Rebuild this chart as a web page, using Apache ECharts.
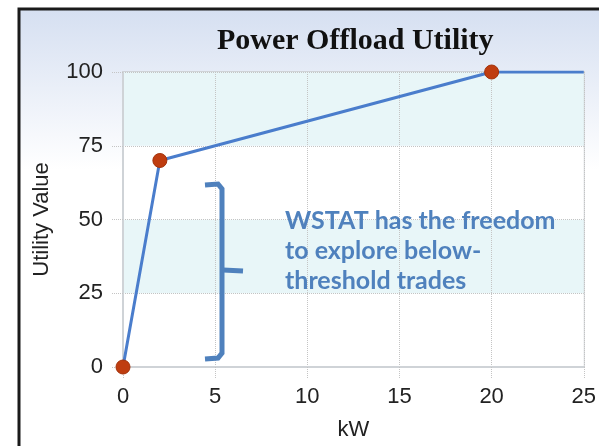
<!DOCTYPE html>
<html>
<head>
<meta charset="utf-8">
<script src="https://cdn.jsdelivr.net/npm/echarts@6/dist/echarts.min.js"></script>
<style>
	html, body { margin:0; padding:0; background:#fff; }
	#main { width:599px; height:446px; }
</style>
</head>
<body>
<div id="main"></div>
<script>
// data
var kw = [0, 2, 20, 25];
var utility = [0, 70, 100, 100];
var marked = [true, true, true, false];

var xTicks = [0, 5, 10, 15, 20, 25];
var yTicks = [0, 25, 50, 75, 100];

var noteLines = ['WSTAT has the freedom', 'to explore below-', 'threshold trades'];

var pts = [];
for (var i = 0; i < kw.length; i++) {
	pts.push({value: [kw[i], utility[i]], symbol: marked[i] ? 'circle' : 'none'});
}

var blue = '#4f81bd';
var axisFont = 'Liberation Sans';

var chart = echarts.init(document.getElementById('main'));

chart.setOption({
	animation: false,
	title: {
		text: 'Power Offload Utility',
		left: 212,
		top: 21,
		textStyle: {fontFamily: 'Liberation Serif', fontWeight: 'bold', fontSize: 30, color: '#111'}
	},
	graphic: [
		{
			// outer frame with soft blue top
			type: 'rect', z: -10, silent: true,
			shape: {x: 19, y: 9, width: 620, height: 460},
			style: {
				fill: new echarts.graphic.LinearGradient(0, 0, 0, 1, [
					{offset: 0, color: '#d5dff1'},
					{offset: 0.35, color: '#ffffff'},
					{offset: 1, color: '#ffffff'}
				]),
				stroke: '#1a1a1a', lineWidth: 3
			}
		},
		{
			// the bracket
			type: 'polyline', z: 100, silent: true,
			shape: {points: [[205, 185], [218, 184], [222, 189], [222, 353], [218, 358], [205, 359]]},
			style: {stroke: blue, lineWidth: 5, fill: null}
		},
		{
			type: 'polyline', z: 100, silent: true,
			shape: {points: [[223, 270], [243, 271]]},
			style: {stroke: blue, lineWidth: 5, fill: null}
		},
		{
			type: 'text', z: 100, silent: true,
			left: 285, top: 206,
			style: {
				text: noteLines.join('\n'),
				font: 'bold 25px Lato',
				lineHeight: 30,
				fill: blue
			}
		}
	],
	grid: {
		left: 123, right: 11, top: 72, bottom: 78,
		show: true,
		borderColor: '#cfd3d7',
		borderWidth: 2,
		backgroundColor: 'transparent'
	},
	xAxis: {
		type: 'value',
		min: xTicks[0],
		max: xTicks[xTicks.length - 1],
		interval: 5,
		name: 'kW',
		nameLocation: 'middle',
		nameGap: 52,
		nameTextStyle: {fontFamily: axisFont, fontSize: 22, color: '#222'},
		axisLine: {lineStyle: {color: '#cfd3d7', width: 2}},
		axisTick: {show: true, length: 12, lineStyle: {color: '#c4c4c4', type: 'dotted'}},
		axisLabel: {fontFamily: axisFont, fontSize: 22, color: '#222', margin: 19},
		splitLine: {show: true, lineStyle: {color: '#c4c4c4', type: 'dotted'}}
	},
	yAxis: {
		type: 'value',
		min: yTicks[0],
		max: yTicks[yTicks.length - 1],
		interval: 25,
		name: 'Utility Value',
		nameLocation: 'middle',
		nameGap: 70,
		nameTextStyle: {fontFamily: axisFont, fontSize: 22, color: '#222'},
		axisLine: {show: true, lineStyle: {color: '#cfd3d7', width: 2}},
		axisTick: {show: true, length: 12, lineStyle: {color: '#c4c4c4', type: 'dotted'}},
		axisLabel: {fontFamily: axisFont, fontSize: 22, color: '#222', margin: 20},
		splitLine: {show: true, lineStyle: {color: '#c4c4c4', type: 'dotted'}},
		splitArea: {show: true, areaStyle: {color: ['#ffffff', '#e8f6f8']}}
	},
	series: [{
		type: 'line',
		data: pts,
		symbolSize: 14,
		lineStyle: {color: '#4a7dcc', width: 3},
		itemStyle: {color: '#bf3d10', borderColor: '#a3320a', borderWidth: 1},
		z: 5
	}]
});
</script>
</body>
</html>
